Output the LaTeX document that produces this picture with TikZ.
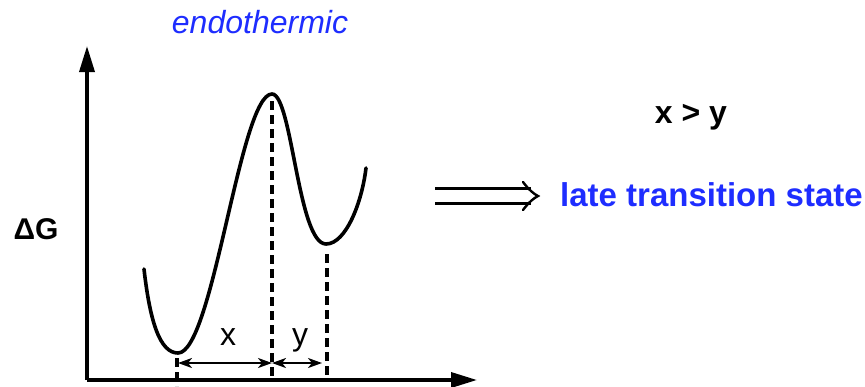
\documentclass[tikz,border=0pt]{standalone}
\usepackage{fontspec}
\setmainfont{Liberation Sans}
\usetikzlibrary{arrows.meta}
\definecolor{myblue}{RGB}{30,45,255}
\begin{document}
\begin{tikzpicture}[x=1pt,y=-1pt,
  axis/.style={line width=3.5pt,-{Stealth[length=26pt,width=15pt,inset=0pt]}},
  curve/.style={line width=3.6pt,line cap=round},
  guide/.style={line width=3.2pt,dash pattern=on 9pt off 5pt},
  dimarrow/.style={line width=2.2pt,{Stealth[length=14pt,width=10pt,inset=4pt]}-{Stealth[length=14pt,width=10pt,inset=4pt]}},
  lbl/.style={inner sep=0pt,anchor=base,font=\fontsize{32}{38}\selectfont},
  blbl/.style={lbl,font=\fontsize{33}{38}\selectfont\bfseries}]
\useasboundingbox (0,0) rectangle (865,386);
% axes
\coordinate (O) at (87,380);
\coordinate (Ytop) at (87,46);
\coordinate (Xend) at (477,380);
\draw[axis] (O) -- (Ytop);
\draw[axis] (O) -- (Xend);
% energy curve
\coordinate (S) at (144,269);
\coordinate (M1) at (178,353);
\coordinate (P) at (272,94);
\coordinate (M2) at (326,244);
\coordinate (E) at (366,168);
\draw[curve] (S) .. controls (150,322) and (160,353) .. (M1)
  .. controls (213,353) and (240,94) .. (P)
  .. controls (292,94) and (298,244) .. (M2)
  .. controls (346,244) and (362,202) .. (E);
% guide lines
\coordinate (G1a) at (177,358);
\coordinate (G1b) at (177,386);
\coordinate (G2a) at (272,101);
\coordinate (G2b) at (272,380);
\coordinate (G3a) at (327,254);
\coordinate (G3b) at (327,380);
\draw[guide] (G1a) -- (G1b);
\draw[guide] (G2a) -- (G2b);
\draw[guide] (G3a) -- (G3b);
% dimension arrows
\coordinate (D1) at (178,363);
\coordinate (D2) at (272,363);
\coordinate (D3) at (322,363);
\draw[dimarrow] (D1) -- (D2);
\draw[dimarrow] (D2) -- (D3);
\node[lbl] (lx) at (228,345) {x};
\node[lbl] (ly) at (300,345) {y};
% labels
\node[lbl,font=\fontsize{32}{38}\selectfont\itshape,text=myblue] (endo) at (260,33) {endothermic};
\node[lbl,font=\fontsize{30}{34}\selectfont\bfseries] (dg) at (36,239) {ΔG};
\node[blbl,font=\fontsize{32}{38}\selectfont\bfseries] (xy) at (691,123) {x > y};
\node[blbl,anchor=base west,text=myblue] (late) at (560,206) {late transition state};
% implies arrow
\coordinate (A1) at (435,196);
\coordinate (A2) at (538,196);
\draw[line width=2.4pt] (435,188.5) -- (531,188.5);
\draw[line width=2.4pt] (435,203.5) -- (531,203.5);
\draw[line width=2.4pt,line cap=round] (523,182) .. controls (529,190) and (534,194) .. (A2)
  .. controls (534,198) and (529,202) .. (523,210);
\end{tikzpicture}
\end{document}
